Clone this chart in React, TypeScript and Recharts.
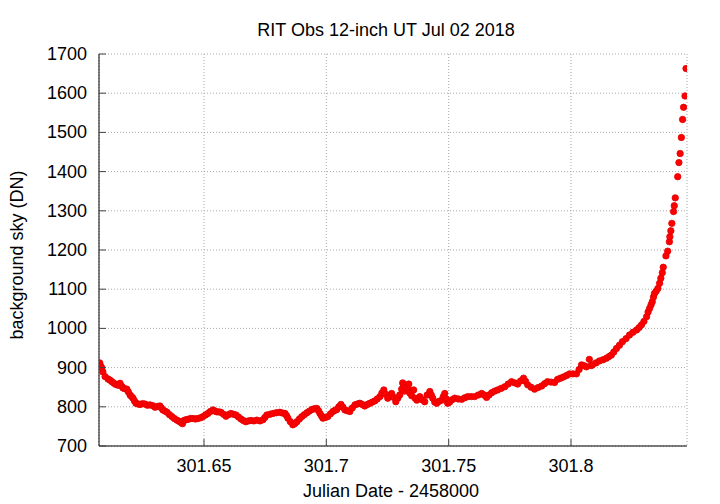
import { CartesianGrid, Scatter, ScatterChart, XAxis, YAxis } from 'recharts';

const FONT = '"Liberation Sans", Arial, sans-serif';
const AXIS = '#000';
const TICK = '#444';
const GRID = '#a8a8a8';
const DOT = '#ff0000';

// julian date - 2458000
const jd = [
  301.6074, 301.6077, 301.6082, 301.6087, 301.6096, 301.6108, 301.6116, 301.6124, 301.6132, 301.614,
  301.6149, 301.6157, 301.6165, 301.6169, 301.6177, 301.6185, 301.6191, 301.6198, 301.6204, 301.621,
  301.6216, 301.6222, 301.6231, 301.6239, 301.6249, 301.6259, 301.6269, 301.6279, 301.629, 301.63,
  301.631, 301.632, 301.6326, 301.6332, 301.6341, 301.6349, 301.6359, 301.6369, 301.6379, 301.639,
  301.6398, 301.6406, 301.6412, 301.6418, 301.6426, 301.6435, 301.6445, 301.6455, 301.6465, 301.6475,
  301.6486, 301.6496, 301.6506, 301.6516, 301.6526, 301.6537, 301.6545, 301.6553, 301.6561, 301.6569,
  301.658, 301.659, 301.66, 301.661, 301.662, 301.6631, 301.6641, 301.6651, 301.6661, 301.6671,
  301.6682, 301.6692, 301.6704, 301.6716, 301.6729, 301.6741, 301.6749, 301.6757, 301.677, 301.6782,
  301.6796, 301.681, 301.6821, 301.6831, 301.6837, 301.6843, 301.6853, 301.6863, 301.6871, 301.688,
  301.689, 301.69, 301.691, 301.6921, 301.6931, 301.6941, 301.6951, 301.6961, 301.6968, 301.6974,
  301.698, 301.6986, 301.6996, 301.7006, 301.7017, 301.7027, 301.7035, 301.7043, 301.7051, 301.706,
  301.7068, 301.7076, 301.7086, 301.7096, 301.7106, 301.7117, 301.7127, 301.7137, 301.7147, 301.7157,
  301.7168, 301.7178, 301.7188, 301.7198, 301.7208, 301.7219, 301.7227, 301.7235, 301.7243, 301.7251,
  301.7259, 301.7267, 301.7276, 301.7284, 301.7292, 301.73, 301.7308, 301.7312, 301.7316, 301.732,
  301.7325, 301.7333, 301.7337, 301.7341, 301.7349, 301.7357, 301.7363, 301.737, 301.7376, 301.7382,
  301.7392, 301.7402, 301.7412, 301.7423, 301.7429, 301.7435, 301.7443, 301.7451, 301.7461, 301.7472,
  301.7478, 301.7484, 301.749, 301.7496, 301.7504, 301.7514, 301.7525, 301.7539, 301.7553, 301.7566,
  301.7578, 301.7592, 301.7606, 301.7621, 301.7635, 301.7645, 301.7655, 301.7665, 301.7676, 301.7688,
  301.77, 301.7714, 301.7729, 301.7743, 301.7757, 301.777, 301.7782, 301.7794, 301.7806, 301.7814,
  301.7823, 301.7837, 301.7851, 301.7865, 301.788, 301.7892, 301.7904, 301.7918, 301.7933, 301.7945,
  301.7957, 301.7969, 301.7982, 301.7994, 301.8008, 301.8022, 301.8033, 301.8043, 301.8053, 301.8063,
  301.8075, 301.8082, 301.8088, 301.8102, 301.8116, 301.8131, 301.8145, 301.8155, 301.8165, 301.8175,
  301.8186, 301.8198, 301.821, 301.8225, 301.8239, 301.8253, 301.8268, 301.8278, 301.8288, 301.8298,
  301.8309, 301.8315, 301.8321, 301.8327, 301.8332, 301.8337, 301.8341, 301.8348, 301.8355, 301.8362,
  301.8367, 301.8373, 301.8377, 301.8388, 301.8395, 301.8402, 301.8404, 301.8408, 301.8412, 301.8419,
  301.8422, 301.8426, 301.8436, 301.8441, 301.8446, 301.8451, 301.8456, 301.846, 301.8466, 301.847,
];

// background sky (DN)
const sky = [
  912, 905, 900, 889, 877, 871, 868, 864, 860, 857,
  855, 860, 852, 848, 846, 845, 838, 830, 826, 822,
  815, 809, 807, 806, 808, 807, 804, 805, 803, 799,
  801, 802, 797, 792, 789, 786, 780, 775, 770, 766,
  763, 760, 757, 765, 767, 768, 770, 770, 769, 770,
  772, 775, 779, 783, 788, 792, 789, 787, 787, 786,
  781, 776, 780, 783, 781, 779, 774, 769, 765, 762,
  764, 765, 764, 766, 764, 767, 773, 779, 781, 783,
  785, 786, 784, 783, 778, 771, 762, 754, 757, 762,
  769, 775, 780, 785, 789, 793, 795, 796, 790, 783,
  777, 771, 773, 775, 782, 788, 791, 793, 800, 806,
  799, 792, 790, 788, 797, 805, 807, 809, 806, 802,
  806, 809, 812, 815, 820, 826, 835, 843, 832, 822,
  828, 834, 824, 813, 822, 830, 845, 861, 856, 840,
  850, 847, 858, 835, 828, 843, 822, 817, 820, 826,
  818, 813, 830, 839, 830, 822, 812, 809, 814, 817,
  826, 834, 820, 809, 812, 818, 822, 820, 819, 823,
  826, 826, 826, 830, 834, 830, 824, 830, 836, 840,
  843, 847, 851, 858, 864, 861, 858, 866, 873, 865,
  856, 850, 845, 849, 853, 859, 864, 863, 862, 870,
  873, 876, 880, 884, 884, 884, 895, 907, 905, 902,
  921, 905, 907, 912, 917, 920, 924, 928, 932, 940,
  949, 957, 966, 974, 983, 990, 996, 1002, 1009, 1018,
  1030, 1042, 1051, 1060, 1068, 1080, 1089, 1095, 1102, 1115,
  1128, 1142, 1156, 1185, 1197, 1221, 1234, 1249, 1268, 1298,
  1313, 1333, 1387, 1423, 1446, 1487, 1533, 1564, 1593, 1663,
];

const xTicks = [301.65, 301.7, 301.75, 301.8];
const yTicks = [700, 800, 900, 1000, 1100, 1200, 1300, 1400, 1500, 1600, 1700];
const xDomain = [301.6071, 301.8474];
const yDomain = [700, 1700];

const data = jd.map((x, i) => ({ x, y: sky[i] }));

const TICK_LEN = 7;
const FS = 18;

function LeftTick({ x = 0, y = 0, payload }: any) {
  return (
    <g>
      <line x1={x} y1={y} x2={x + TICK_LEN} y2={y} stroke={TICK} />
      <text x={x - 12} y={y} dy={6} textAnchor="end" fill="#000" fontSize={FS} fontFamily={FONT}>
        {payload?.value}
      </text>
    </g>
  );
}

function RightTick({ x = 0, y = 0 }: any) {
  return <line x1={x} y1={y} x2={x - TICK_LEN} y2={y} stroke={TICK} />;
}

function BottomTick({ x = 0, y = 0, payload }: any) {
  return (
    <g>
      <line x1={x} y1={y} x2={x} y2={y - TICK_LEN} stroke={TICK} />
      <text x={x} y={y + 26} textAnchor="middle" fill="#000" fontSize={FS} fontFamily={FONT}>
        {payload?.value}
      </text>
    </g>
  );
}

function TopTick({ x = 0, y = 0 }: any) {
  return <line x1={x} y1={y} x2={x} y2={y + TICK_LEN} stroke={TICK} />;
}

function Dot(props: any) {
  const { cx, cy } = props;
  if (cx == null || cy == null) return null;
  return <circle cx={cx} cy={cy} r={3.2} fill={DOT} stroke="#e00000" strokeWidth={0.8} />;
}

export default function App() {
  return (
    <div
      style={{
        position: 'relative',
        width: 720,
        height: 504,
        margin: '-8px 0 0 -8px',
        background: '#fff',
        fontFamily: FONT,
        color: '#000',
      }}
    >
      <ScatterChart width={720} height={504} margin={{ top: 54, right: 33, bottom: 0, left: 0 }}>
        <CartesianGrid
          xAxisId="b"
          yAxisId="l"
          stroke={GRID}
          strokeDasharray="1 2"
        />
        <XAxis
          xAxisId="b"
          type="number"
          dataKey="x"
          domain={xDomain}
          ticks={xTicks}
          allowDataOverflow
          height={58}
          tickSize={0}
          tickMargin={0}
          tickLine={false}
          axisLine={{ stroke: AXIS }}
          tick={<BottomTick />}
        />
        <XAxis
          xAxisId="t"
          orientation="top"
          type="number"
          dataKey="x"
          domain={xDomain}
          ticks={xTicks}
          allowDataOverflow
          height={0}
          tickSize={0}
          tickMargin={0}
          tickLine={false}
          axisLine={{ stroke: AXIS }}
          tick={<TopTick />}
        />
        <YAxis
          yAxisId="l"
          type="number"
          dataKey="y"
          domain={yDomain}
          ticks={yTicks}
          allowDataOverflow
          width={99}
          tickSize={0}
          tickMargin={0}
          tickLine={false}
          axisLine={{ stroke: AXIS }}
          tick={<LeftTick />}
        />
        <YAxis
          yAxisId="r"
          orientation="right"
          type="number"
          dataKey="y"
          domain={yDomain}
          ticks={yTicks}
          allowDataOverflow
          width={0}
          tickSize={0}
          tickMargin={0}
          tickLine={false}
          axisLine={{ stroke: AXIS }}
          tick={<RightTick />}
        />
        <Scatter
          data={data}
          xAxisId="b"
          yAxisId="l"
          fill={DOT}
          shape={<Dot />}
          isAnimationActive={false}
        />
      </ScatterChart>
      <div
        style={{
          position: 'absolute',
          left: 0,
          width: 772,
          top: 19,
          textAlign: 'center',
          fontSize: FS,
          lineHeight: '22px',
        }}
      >
        RIT Obs 12-inch UT Jul 02 2018
      </div>
      <div
        style={{
          position: 'absolute',
          left: 0,
          width: 782,
          top: 480,
          textAlign: 'center',
          fontSize: FS,
          lineHeight: '22px',
        }}
      >
        Julian Date - 2458000
      </div>
      <div
        style={{
          position: 'absolute',
          left: 17,
          top: 255,
          fontSize: FS,
          lineHeight: '22px',
          whiteSpace: 'nowrap',
          transform: 'translate(-50%, -50%) rotate(-90deg)',
        }}
      >
        background sky (DN)
      </div>
    </div>
  );
}
